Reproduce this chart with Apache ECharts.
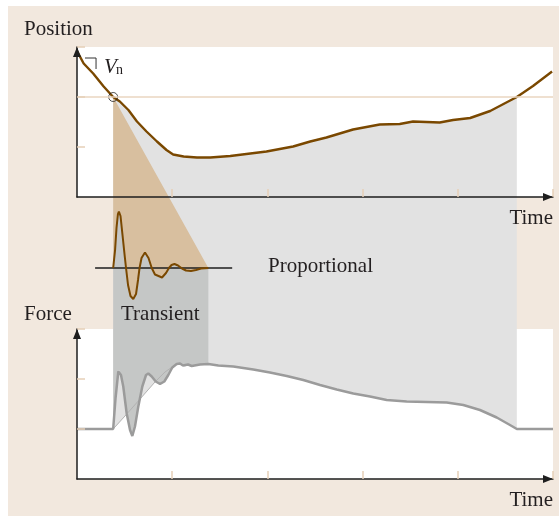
<!DOCTYPE html>
<html>
<head>
<meta charset="utf-8">
<script src="https://cdn.jsdelivr.net/npm/echarts@6/dist/echarts.min.js"></script>
<style>
  html, body { margin: 0; padding: 0; background: #fff; }
  #chart { width: 559px; height: 517px; }
</style>
</head>
<body>
<div id="chart"></div>
<script>
// Time runs 0..5 on every panel, one unit per tick.
const timeTicks = [1, 2, 3, 4, 5];
const levelTicks = [1, 2, 3];

// Position trace (upper panel)
const posTime  = [0, 0.07, 0.17, 0.28, 0.38, 0.45, 0.54, 0.63, 0.73, 0.84, 0.94, 1.01, 1.12, 1.26, 1.40, 1.61, 1.99, 2.27, 2.45, 2.62, 2.83, 2.90, 3.18, 3.39, 3.53, 3.81, 3.95, 4.13, 4.34, 4.55, 4.62, 4.79, 4.99];
const posValue = [2.92, 2.67, 2.47, 2.21, 2.00, 1.91, 1.74, 1.51, 1.31, 1.11, 0.94, 0.85, 0.81, 0.79, 0.79, 0.82, 0.91, 1.01, 1.11, 1.19, 1.31, 1.35, 1.45, 1.46, 1.51, 1.49, 1.54, 1.58, 1.72, 1.93, 2.00, 2.22, 2.51];

// Reference level V_n and the two times the position trace crosses it
const vnLevel = 2;
const vnCross = [0.38, 4.62];
// Small slope bracket next to the V_n label
const vnMarkTime  = [0.084, 0.20, 0.20];
const vnMarkValue = [2.78, 2.78, 2.56];

// Transient response (middle strip), around a zero baseline
const trTime  = [0.38, 0.40, 0.415, 0.43, 0.44, 0.457, 0.478, 0.50, 0.515, 0.536, 0.562, 0.591, 0.62, 0.641, 0.657, 0.678, 0.714, 0.751, 0.785, 0.819, 0.893, 0.935, 0.966, 0.993, 1.024, 1.061, 1.103, 1.145, 1.197, 1.25, 1.303, 1.38];
const trValue = [0, 0.36, 0.80, 1.08, 1.13, 1.04, 0.66, 0.26, 0, -0.34, -0.56, -0.62, -0.52, -0.24, 0, 0.20, 0.31, 0.20, 0, -0.13, -0.19, -0.10, 0, 0.06, 0.08, 0.05, -0.01, -0.05, -0.06, -0.04, -0.01, 0];
const trBaseTime = [0.19, 1.63];

// Total force (lower panel)
const forceTime  = [0, 0.38, 0.405, 0.434, 0.444, 0.462, 0.486, 0.522, 0.557, 0.581, 0.609, 0.644, 0.686, 0.725, 0.749, 0.785, 0.827, 0.872, 0.917, 0.959, 1.001, 1.047, 1.082, 1.113, 1.134, 1.166, 1.205, 1.292, 1.38, 1.484, 1.642, 1.852, 2.027, 2.203, 2.377, 2.553, 2.728, 2.902, 3.078, 3.253, 3.463, 3.883, 4.058, 4.233, 4.409, 4.548, 4.62, 5.0];
const forceValue = [1, 1, 1.62, 2.15, 2.18, 2.08, 1.85, 1.31, 0.98, 0.86, 1.05, 1.45, 1.85, 2.08, 2.11, 2.05, 1.95, 1.90, 1.95, 2.08, 2.23, 2.30, 2.31, 2.27, 2.25, 2.29, 2.26, 2.29, 2.30, 2.27, 2.25, 2.19, 2.13, 2.06, 1.98, 1.88, 1.79, 1.71, 1.65, 1.58, 1.55, 1.53, 1.48, 1.38, 1.23, 1.08, 1.00, 1.00];

// Proportional part of the force while the transient dies out
const propTime  = [0.38, 0.504, 0.662, 0.819, 0.924, 1.0, 1.047];
const propValue = [1, 1.26, 1.60, 1.94, 2.14, 2.24, 2.30];

const zip = (xs, ys) => xs.map((x, i) => [x, ys[i]]);
const posPts = zip(posTime, posValue);
const trPts = zip(trTime, trValue);
const forcePts = zip(forceTime, forceValue);
const propPts = zip(propTime, propValue);
// Lower boundary of the proportional band: smooth part, then the total force
const propBoundary = propPts.concat(forcePts.filter(p => p[0] > propTime[propTime.length - 1] && p[0] <= vnCross[1]));

const FONT = '"Liberation Serif", "Times New Roman", serif';
const INK = '#231f20';
const BROWN = '#7a4800';
const TAN_LINE = '#e6d0b8';

const chart = echarts.init(document.getElementById('chart'), null, { renderer: 'canvas' });

function px(k, x, y) {
  return chart.convertToPixel({ xAxisIndex: k, yAxisIndex: k }, [x, y]);
}

function region(name, color, build) {
  return {
    type: 'custom', name: name, xAxisIndex: 0, yAxisIndex: 0, z: 1, silent: true,
    clip: false, data: [[0, 0]],
    renderItem: function () {
      return { type: 'polygon', shape: { points: build() }, style: { fill: color } };
    }
  };
}

function axisCommon(gridIndex, isX, visible) {
  const base = {
    type: 'value', gridIndex: gridIndex, z: 5,
    axisLabel: { show: false }, splitLine: { show: false }
  };
  if (!visible) return Object.assign(base, { show: false });
  return Object.assign(base, {
    axisLine: {
      show: true, symbol: ['none', 'triangle'], symbolSize: [8, 10], symbolOffset: [0, -5],
      lineStyle: { color: '#1e1e1e', width: 1.5 }
    },
    axisTick: {
      show: true, inside: true, length: 8,
      customValues: isX ? timeTicks : levelTicks,
      lineStyle: { color: TAN_LINE, width: 1.5 }
    }
  });
}

const xAxes = [0, 1, 2].map(k => Object.assign(axisCommon(k, true, k !== 1), {
  min: 0, max: 5, interval: 1
}));
[0, 2].forEach(k => Object.assign(xAxes[k], {
  name: 'Time', nameLocation: 'end', nameGap: 0,
  nameTextStyle: { fontFamily: FONT, fontSize: 21, color: INK, align: 'right', verticalAlign: 'top', lineHeight: 21, padding: [11, 0, 0, 0] }
}));

const yAxes = [
  Object.assign(axisCommon(0, false, true), { min: 0, max: 3, interval: 1 }),
  Object.assign(axisCommon(1, false, false), { min: -1.22, max: 1.42 }),
  Object.assign(axisCommon(2, false, true), { min: 0, max: 3, interval: 1 })
];

const option = {
  animation: false,
  backgroundColor: '#ffffff',
  grid: [
    { left: 77, top: 47, width: 476, height: 150, show: true, backgroundColor: '#ffffff', borderWidth: 0 },
    { left: 77, top: 197, width: 476, height: 132, show: false },
    { left: 77, top: 329, width: 476, height: 150, show: true, backgroundColor: '#ffffff', borderWidth: 0 }
  ],
  xAxis: xAxes,
  yAxis: yAxes,
  graphic: [
    { type: 'rect', z: -10, silent: true, shape: { x: 8, y: 6, width: 551, height: 510 }, style: { fill: '#f2e8de' } },
    { type: 'text', z: 20, x: 24, y: 29, style: { text: 'Position', font: '21px ' + FONT, fill: INK, verticalAlign: 'middle' } },
    { type: 'text', z: 20, x: 24, y: 314, style: { text: 'Force', font: '21px ' + FONT, fill: INK, verticalAlign: 'middle' } },
    { type: 'text', z: 20, x: 121, y: 314, style: { text: 'Transient', font: '21px ' + FONT, fill: INK, verticalAlign: 'middle' } },
    { type: 'text', z: 20, x: 268, y: 266, style: { text: 'Proportional', font: '21px ' + FONT, fill: INK, verticalAlign: 'middle' } },
    { type: 'text', z: 20, x: 104, y: 67, style: { text: 'V', font: 'italic 21px ' + FONT, fill: INK, verticalAlign: 'middle' } },
    { type: 'text', z: 20, x: 116, y: 70, style: { text: 'n', font: '14px ' + FONT, fill: INK, verticalAlign: 'middle' } }
  ],
  series: [
    // Proportional band: from the position trace down to the proportional force
    region('proportional', '#e2e2e2', function () {
      const top = posPts.filter(p => p[0] >= vnCross[0] && p[0] <= vnCross[1]).map(p => px(0, p[0], p[1]));
      const bottom = propBoundary.slice().reverse().map(p => px(2, p[0], p[1]));
      return top.concat(bottom);
    }),
    // Transient wedge: from the V_n crossing down to the transient curve
    region('transientWedge', '#d8bf9f', function () {
      const apex = px(0, vnCross[0], vnLevel);
      return [apex].concat(trPts.slice().reverse().map(p => px(1, p[0], p[1])));
    }),
    // Transient band: from the transient curve down to the total force
    region('transientBand', '#c5c7c6', function () {
      const tEnd = trTime[trTime.length - 1];
      const top = trPts.map(p => px(1, p[0], p[1]));
      const bottom = forcePts.filter(p => p[0] >= vnCross[0] && p[0] <= tEnd).reverse().map(p => px(2, p[0], p[1]));
      return top.concat(bottom);
    }),
    {
      type: 'line', name: 'Position', xAxisIndex: 0, yAxisIndex: 0, z: 3,
      data: posPts, showSymbol: false, symbol: 'none',
      lineStyle: { color: BROWN, width: 2.4 },
      markLine: {
        silent: true, symbol: ['none', 'none'], label: { show: false },
        lineStyle: { color: '#ead6c1', width: 1.5, type: 'solid' },
        data: [{ yAxis: vnLevel }]
      }
    },
    {
      type: 'line', name: 'slope', xAxisIndex: 0, yAxisIndex: 0, z: 3,
      data: zip(vnMarkTime, vnMarkValue), showSymbol: false, symbol: 'none',
      lineStyle: { color: '#333333', width: 1 }
    },
    {
      type: 'scatter', name: 'crossing', xAxisIndex: 0, yAxisIndex: 0, z: 4,
      data: [[vnCross[0], vnLevel]], symbol: 'circle', symbolSize: 9,
      itemStyle: { color: 'rgba(0,0,0,0)', borderColor: '#222222', borderWidth: 1 }
    },
    {
      type: 'line', name: 'baseline', xAxisIndex: 1, yAxisIndex: 1, z: 3,
      data: trBaseTime.map(t => [t, 0]), showSymbol: false, symbol: 'none',
      lineStyle: { color: '#1e1e1e', width: 1.5 }
    },
    {
      type: 'line', name: 'Transient', xAxisIndex: 1, yAxisIndex: 1, z: 3,
      data: trPts, showSymbol: false, symbol: 'none',
      lineStyle: { color: BROWN, width: 2 }
    },
    {
      type: 'line', name: 'Proportional force', xAxisIndex: 2, yAxisIndex: 2, z: 3,
      data: propPts, showSymbol: false, symbol: 'none',
      lineStyle: { color: '#b2b2b2', width: 1 }
    },
    {
      type: 'line', name: 'Force', xAxisIndex: 2, yAxisIndex: 2, z: 3,
      data: forcePts, showSymbol: false, symbol: 'none',
      lineStyle: { color: '#9b9b9b', width: 2.5 }
    }
  ]
};

chart.setOption(option);
</script>
</body>
</html>
